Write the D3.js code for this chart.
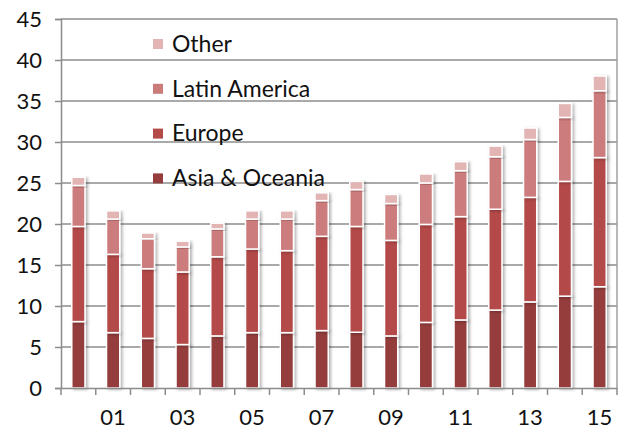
<!DOCTYPE html>
<html>
<head>
<meta charset="utf-8">
<script src="https://cdn.jsdelivr.net/npm/d3@7"></script>
<style>
  body { margin: 0; background: #fff; }
  text { font-family: Lato, "Open Sans", sans-serif; fill: #111; }
</style>
</head>
<body>
<script>
// Data
const years = d3.range(2000, 2016);
const yearLabels = years.map(y => (y % 2 === 1) ? String(y).slice(2) : "");
const asia    = [8.1, 6.75, 6.05, 5.3, 6.35, 6.75, 6.75, 7.0, 6.8, 6.35, 8.0, 8.3, 9.5, 10.5, 11.2, 12.35];
const europe  = [11.6, 9.55, 8.5, 8.85, 9.65, 10.2, 10.0, 11.5, 12.9, 11.65, 11.95, 12.6, 12.3, 12.75, 14.0, 15.75];
const latam   = [5.0, 4.3, 3.65, 3.05, 3.4, 3.65, 3.85, 4.35, 4.5, 4.5, 5.05, 5.6, 6.4, 7.05, 7.8, 8.15];
const other   = [1.0, 1.0, 0.7, 0.7, 0.7, 1.0, 1.0, 0.95, 1.0, 1.1, 1.1, 1.1, 1.3, 1.4, 1.7, 1.8];
const seriesNames = ["Asia & Oceania", "Europe", "Latin America", "Other"];
const colors = ["#953c3c", "#b34a48", "#cc7b7b", "#e2b4b4"];
const yTicks = d3.range(0, 50, 5);

// Plot area bounds
const W = 626, H = 430;
const plot = { left: 61, right: 617, top: 19, bottom: 388 };

const svg = d3.select("body").append("svg")
    .attr("width", W)
    .attr("height", H);

const defs = svg.append("defs");
defs.append("filter").attr("id", "shadow")
    .attr("x", "-30%").attr("y", "-10%").attr("width", "180%").attr("height", "130%")
  .append("feDropShadow")
    .attr("dx", 2).attr("dy", 1).attr("stdDeviation", 1.5)
    .attr("flood-color", "#000").attr("flood-opacity", 0.3);

const table = years.map((y, i) => ({ year: y, a: asia[i], e: europe[i], l: latam[i], o: other[i] }));
const stack = d3.stack().keys(["a", "e", "l", "o"])(table);

const xAxisScale = d3.scaleBand().domain(years).range([plot.left, plot.right]);
const x = d3.scaleBand().domain(years).range([plot.left, plot.right]).paddingInner(0.62).paddingOuter(0.31);
const y = d3.scaleLinear().domain([0, 45]).range([plot.bottom, plot.top]);

// gridlines
svg.append("g")
  .selectAll("line")
  .data(yTicks.slice(1))
  .enter().append("line")
    .attr("x1", plot.left).attr("x2", plot.right)
    .attr("y1", d => y(d)).attr("y2", d => y(d))
    .attr("stroke", "#8c8c8c").attr("stroke-width", 1.5);

// right border
svg.append("line")
    .attr("x1", plot.right).attr("x2", plot.right)
    .attr("y1", plot.top).attr("y2", plot.bottom)
    .attr("stroke", "#a0a0a0").attr("stroke-width", 1.5);

// legend
const legend = svg.append("g");
const legendOrder = [3, 2, 1, 0];
legendOrder.forEach((k, i) => {
  const ly = 44 + i * 44.8;
  legend.append("rect")
      .attr("x", 153).attr("y", ly - 5)
      .attr("width", 10).attr("height", 10)
      .attr("fill", colors[k]);
  legend.append("text")
      .attr("x", 172).attr("y", ly)
      .attr("dy", "0.34em")
      .attr("font-size", 23)
      .text(seriesNames[k]);
});

// bars
svg.append("g")
  .selectAll("g")
  .data(stack)
  .enter().append("g")
    .attr("fill", (d, i) => colors[i])
  .selectAll("rect")
  .data(d => d)
  .enter().append("rect")
    .attr("x", d => x(d.data.year))
    .attr("y", d => y(d[1]))
    .attr("width", x.bandwidth())
    .attr("height", d => y(d[0]) - y(d[1]))
    .attr("stroke", "#fff")
    .attr("stroke-width", 1.5)
    .attr("filter", "url(#shadow)");

// y axis
const yAxis = svg.append("g")
    .attr("transform", `translate(${plot.left},0)`)
    .call(d3.axisLeft(y).tickValues(yTicks).tickSize(6).tickPadding(13));
yAxis.selectAll("line").attr("stroke", "#8c8c8c").attr("stroke-width", 1.5);
yAxis.select(".domain").attr("stroke", "#8c8c8c").attr("stroke-width", 1.5);
yAxis.selectAll("text").attr("font-size", 22).attr("font-family", "Lato, sans-serif").attr("fill", "#111");

// x axis
const xAxis = svg.append("g")
    .attr("transform", `translate(0,${plot.bottom})`)
    .call(d3.axisBottom(xAxisScale).tickSize(0).tickPadding(21)
      .tickFormat((d, i) => yearLabels[i]));
xAxis.select(".domain").attr("stroke", "#8c8c8c").attr("stroke-width", 1.5);
xAxis.selectAll("text").attr("font-size", 22).attr("font-family", "Lato, sans-serif").attr("fill", "#111");
xAxis.selectAll(".boundary")
  .data(years.concat([null]))
  .enter().append("line")
    .attr("x1", (d, i) => i < years.length ? xAxisScale(d) : plot.right)
    .attr("x2", (d, i) => i < years.length ? xAxisScale(d) : plot.right)
    .attr("y1", 0).attr("y2", 7)
    .attr("stroke", "#8c8c8c").attr("stroke-width", 1.5);
</script>
</body>
</html>
